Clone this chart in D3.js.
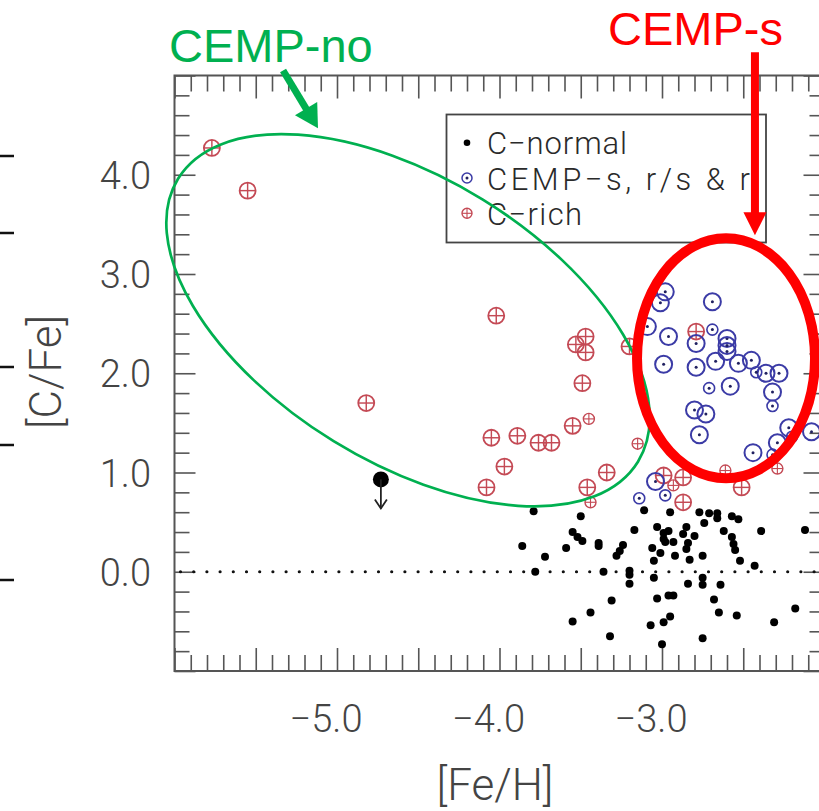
<!DOCTYPE html>
<meta charset="utf-8">
<head>
  <script src="https://d3js.org/d3.v7.min.js"></script>
  <style>
    body { margin: 0; background: #fff; }
    .lbl { font-family: Roboto, "Liberation Sans", sans-serif; font-weight: 300; fill: #444; }
    .note { font-family: "Liberation Sans", Arial, sans-serif; }
  </style>
</head>
<body>
<div id="chart"></div>
<script>

// [Fe/H], [C/Fe]
var cNormal = [
  [-3.79,0.61],[-3.50,0.56],[-3.55,0.40],[-3.52,0.35],[-3.49,0.31],[-3.86,0.26],[-3.59,0.24],
  [-3.39,0.29],[-3.39,0.26],[-3.72,0.15],[-3.78,0.00],[-3.36,0.00],[-3.24,0.27],[-3.26,0.21],
  [-3.28,0.16],[-3.20,0.01],[-3.20,-0.03],[-3.20,-0.12],[-3.11,0.62],[-3.17,0.42],[-2.95,0.60],
  [-3.03,0.45],[-2.99,0.39],[-2.96,0.41],[-2.99,0.33],[-2.98,0.30],[-2.93,0.30],[-3.06,0.24],
  [-3.01,0.19],[-3.05,0.11],[-2.92,0.16],[-2.87,0.38],[-2.85,0.45],[-2.80,0.36],[-2.84,0.29],
  [-2.85,0.23],[-2.83,0.12],[-2.77,0.60],[-2.74,0.49],[-2.71,0.59],[-2.66,0.59],[-2.66,0.54],
  [-2.62,0.41],[-2.57,0.56],[-2.53,0.53],[-2.57,0.35],[-2.56,0.28],[-2.55,0.22],[-2.52,0.11],
  [-2.75,0.16],[-2.43,0.06],[-2.39,0.41],[-2.12,0.42],[-3.05,-0.06],[-2.84,-0.12],[-2.75,-0.06],
  [-2.75,-0.13],[-2.64,-0.13],[-3.31,-0.29],[-3.03,-0.27],[-2.96,-0.24],[-2.93,-0.24],[-2.68,-0.28],
  [-3.44,-0.41],[-3.55,-0.50],[-3.07,-0.54],[-2.99,-0.51],[-2.95,-0.45],[-2.65,-0.41],[-2.54,-0.44],
  [-3.32,-0.65],[-3.00,-0.73],[-2.75,-0.67],[-2.31,-0.51],[-2.18,-0.37]
];
// upper limit (arrow down)
var cNormalLimit = [[-4.73, 0.93]];

// CEMP-s, r/s & r : group 1 = large symbol, group 2 = small symbol
var cempS1 = [
  [-2.98,2.82],[-3.01,2.71],[-2.69,2.72],[-3.09,2.47],[-2.96,2.37],[-2.79,2.30],[-2.60,2.35],
  [-2.60,2.28],[-2.60,2.22],[-2.99,2.09],[-2.79,2.06],[-2.67,2.12],[-2.53,2.10],[-2.45,2.13],
  [-2.36,2.00],[-2.28,2.00],[-2.58,1.87],[-2.32,1.81],[-2.80,1.63],[-2.73,1.59],[-2.77,1.38],
  [-2.22,1.45],[-2.29,1.30],[-2.44,1.20],[-2.08,1.41],[-3.04,0.91]
];
var cempS2 = [
  [-2.69,2.44],[-2.42,2.01],[-2.71,1.85],[-2.32,1.67],[-2.32,1.18],[-2.20,1.36],[-3.14,0.74],[-2.98,0.77]
];

// C-rich : group 1 = large symbol, group 2 = small symbol
var cRich1 = [
  [-5.77,4.27],[-5.55,3.84],[-4.82,1.70],[-4.02,2.58],[-3.53,2.29],[-3.47,2.37],[-3.47,2.21],
  [-3.49,1.90],[-3.20,2.27],[-3.55,1.47],[-4.05,1.35],[-3.89,1.37],[-3.76,1.30],[-3.68,1.30],
  [-3.97,1.06],[-4.08,0.85],[-3.46,0.85],[-3.34,1.00],[-2.79,2.42],[-2.51,0.85],[-2.99,0.97],
  [-2.87,0.95],[-2.87,0.70]
];
var cRich2 = [
  [-3.45,1.54],[-3.15,1.29],[-2.61,1.02],[-2.29,1.04],[-2.93,0.87],[-3.44,0.70]
];

var xLabels = [-5, -4, -3];
var yLabels = [0, 1, 2, 3, 4];
var legendNames = ["C\u2212normal", "CEMP\u2212s, r/s & r", "C\u2212rich"];

var width = 819, height = 811;

var svg = d3.select("#chart").append("svg")
  .attr("width", width).attr("height", height);
svg.append("rect").attr("width", width).attr("height", height).attr("fill", "#fff");

var x = d3.scaleLinear().domain([-6, -2]).range([174.5, 824.5]);
var y = d3.scaleLinear().domain([-1, 5]).range([671, 75.5]);

// stray marks on the left edge of the slide
[156, 233, 367, 445, 580].forEach(function (yy) {
  svg.append("line").attr("x1", 0).attr("x2", 14).attr("y1", yy).attr("y2", yy)
    .attr("stroke", "#111").attr("stroke-width", 2.5);
});

// ticks
var xAll = d3.range(0, 41).map(function (i) { return +(-6 + i * 0.1).toFixed(1); });
var xMinor = xAll.filter(function (d, i) { return i % 5 != 0; });
var xMajor = xAll.filter(function (d, i) { return i % 5 == 0; });
var yAll = d3.range(0, 31).map(function (i) { return +(-1 + i * 0.2).toFixed(1); });
var yMinor = yAll.filter(function (d, i) { return i % 5 != 0; });
var yMajor = yAll.filter(function (d, i) { return i % 5 == 0; });

function tickAxis(axis, tr) {
  var g = svg.append("g").attr("transform", tr).call(axis);
  g.select(".domain").remove();
  g.selectAll("line").attr("stroke", "#555").attr("stroke-width", 1.6);
}
tickAxis(d3.axisBottom(x).tickValues(xMinor).tickSize(-16).tickFormat(""), "translate(0," + y(-1) + ")");
tickAxis(d3.axisBottom(x).tickValues(xMajor).tickSize(-23).tickFormat(""), "translate(0," + y(-1) + ")");
tickAxis(d3.axisTop(x).tickValues(xMinor).tickSize(-16).tickFormat(""), "translate(0," + y(5) + ")");
tickAxis(d3.axisTop(x).tickValues(xMajor).tickSize(-23).tickFormat(""), "translate(0," + y(5) + ")");
tickAxis(d3.axisLeft(y).tickValues(yMinor).tickSize(-15).tickFormat(""), "translate(" + x(-6) + ",0)");
tickAxis(d3.axisLeft(y).tickValues(yMajor).tickSize(-21).tickFormat(""), "translate(" + x(-6) + ",0)");
tickAxis(d3.axisRight(y).tickValues(yMinor).tickSize(-15).tickFormat(""), "translate(" + x(-2) + ",0)");
tickAxis(d3.axisRight(y).tickValues(yMajor).tickSize(-21).tickFormat(""), "translate(" + x(-2) + ",0)");

// frame
svg.append("rect")
  .attr("x", x(-6)).attr("y", y(5))
  .attr("width", x(-2) - x(-6)).attr("height", y(-1) - y(5))
  .attr("fill", "none").attr("stroke", "#555").attr("stroke-width", 2);

// tick labels
svg.selectAll(".xl").data(xLabels).enter().append("text")
  .attr("class", "lbl")
  .attr("x", function (d) { return x(d) - 11; })
  .attr("y", 732)
  .attr("text-anchor", "middle")
  .attr("font-size", 38)
  .text(function (d) { return "\u2212" + Math.abs(d).toFixed(1); });

svg.selectAll(".yl").data(yLabels).enter().append("text")
  .attr("class", "lbl")
  .attr("x", 151)
  .attr("y", function (d) { return y(d) + 14; })
  .attr("text-anchor", "end")
  .attr("font-size", 38)
  .text(function (d) { return d.toFixed(1); });

// axis titles
svg.append("text").attr("class", "lbl")
  .attr("transform", "translate(61,372) rotate(-90)")
  .attr("text-anchor", "middle").attr("font-size", 44)
  .text("[C/Fe]");
svg.append("text").attr("class", "lbl")
  .attr("x", 495).attr("y", 800)
  .attr("text-anchor", "middle").attr("font-size", 44)
  .text("[Fe/H]");

// dotted zero line
svg.append("line")
  .attr("x1", x(-6) + 6).attr("x2", x(-2))
  .attr("y1", y(0)).attr("y2", y(0))
  .attr("stroke", "#111").attr("stroke-width", 3.2)
  .attr("stroke-linecap", "round")
  .attr("stroke-dasharray", "0,13.2");

var blue = "#3b3ba6", red = "#c44a55";

// symbols
function drawNormal(g, cx, cy, r) {
  g.append("circle").attr("cx", cx).attr("cy", cy).attr("r", r).attr("fill", "#000");
}
function drawCemps(g, cx, cy, r, sw) {
  g.append("circle").attr("cx", cx).attr("cy", cy).attr("r", r)
    .attr("fill", "none").attr("stroke", blue).attr("stroke-width", sw);
  g.append("circle").attr("cx", cx).attr("cy", cy).attr("r", 1.5).attr("fill", "#202060");
}
function drawRich(g, cx, cy, r, sw) {
  g.append("circle").attr("cx", cx).attr("cy", cy).attr("r", r)
    .attr("fill", "none").attr("stroke", red).attr("stroke-width", sw);
  g.append("line").attr("x1", cx - r).attr("x2", cx + r).attr("y1", cy).attr("y2", cy)
    .attr("stroke", red).attr("stroke-width", sw * 0.8);
  g.append("line").attr("x1", cx).attr("x2", cx).attr("y1", cy - r).attr("y2", cy + r)
    .attr("stroke", red).attr("stroke-width", sw * 0.8);
}

var pts = svg.append("g");
cNormal.forEach(function (d) { drawNormal(pts, x(d[0]), y(d[1]), 4); });
cNormalLimit.forEach(function (d) {
  var cx = x(d[0]), cy = y(d[1]);
  drawNormal(pts, cx, cy, 8);
  pts.append("line").attr("x1", cx).attr("x2", cx).attr("y1", cy).attr("y2", cy + 29)
    .attr("stroke", "#222").attr("stroke-width", 1.8);
  pts.append("path")
    .attr("d", "M" + (cx - 6) + "," + (cy + 20) + "L" + cx + "," + (cy + 29) + "L" + (cx + 6) + "," + (cy + 20))
    .attr("fill", "none").attr("stroke", "#222").attr("stroke-width", 1.8);
});
cRich1.forEach(function (d) { drawRich(pts, x(d[0]), y(d[1]), 8, 1.8); });
cRich2.forEach(function (d) { drawRich(pts, x(d[0]), y(d[1]), 5.5, 1.4); });
cempS1.forEach(function (d) { drawCemps(pts, x(d[0]), y(d[1]), 8.5, 2); });
cempS2.forEach(function (d) { drawCemps(pts, x(d[0]), y(d[1]), 5.5, 1.6); });

// legend
var leg = svg.append("g");
leg.append("rect").attr("x", 446.5).attr("y", 114.5).attr("width", 319.5).attr("height", 128)
  .attr("fill", "#fff").attr("stroke", "#444").attr("stroke-width", 1.8);
var legLen = [140, 263, 95];
legendNames.forEach(function (name, i) {
  var cy = 142.7 + i * 35.3;
  if (i == 0) drawNormal(leg, 467, cy, 3.3);
  if (i == 1) drawCemps(leg, 467, cy, 5, 1.5);
  if (i == 2) drawRich(leg, 467, cy, 5, 1.4);
  leg.append("text").attr("class", "lbl")
    .attr("x", 487).attr("y", cy + 11.5)
    .attr("font-size", 31).style("fill", "#2a2a2a")
    .attr("textLength", legLen[i]).attr("lengthAdjust", "spacing")
    .text(name);
});

// annotations (hand drawn on the slide)
var green = "#00b050", bright = "#ff0000";

function arrow(x1, y1, x2, y2, color, w, headLen, headHalf) {
  var dx = x2 - x1, dy = y2 - y1, L = Math.sqrt(dx * dx + dy * dy);
  var ux = dx / L, uy = dy / L;
  var bx = x2 - ux * headLen, by = y2 - uy * headLen;
  svg.append("line").attr("x1", x1).attr("y1", y1).attr("x2", bx + ux * 2).attr("y2", by + uy * 2)
    .attr("stroke", color).attr("stroke-width", w);
  svg.append("path")
    .attr("d", "M" + x2 + "," + y2 +
      "L" + (bx - uy * headHalf) + "," + (by + ux * headHalf) +
      "L" + (bx + uy * headHalf) + "," + (by - ux * headHalf) + "Z")
    .attr("fill", color);
}

// CEMP-no ellipse
svg.append("ellipse")
  .attr("transform", "translate(" + x(-4.563) + "," + y(2.534) + ") rotate(31.6)")
  .attr("rx", 270).attr("ry", 142)
  .attr("fill", "none").attr("stroke", green).attr("stroke-width", 2.7);

// CEMP-s ellipse
svg.append("ellipse")
  .attr("cx", x(-2.606)).attr("cy", y(2.151))
  .attr("rx", 89).attr("ry", 120)
  .attr("fill", "none").attr("stroke", bright).attr("stroke-width", 10);

arrow(x(-5.332), y(5.05), x(-5.117), y(4.468), green, 7, 23, 13);
arrow(x(-2.428), y(5.234), x(-2.428), y(3.39), bright, 8, 23, 11.5);

svg.append("text").attr("class", "note")
  .attr("x", x(-6.034)).attr("y", y(5.137))
  .attr("font-size", 47).attr("fill", green)
  .text("CEMP-no");
svg.append("text").attr("class", "note")
  .attr("x", x(-3.332)).attr("y", y(5.305))
  .attr("font-size", 47).attr("fill", bright)
  .text("CEMP-s");

</script>
</body>
